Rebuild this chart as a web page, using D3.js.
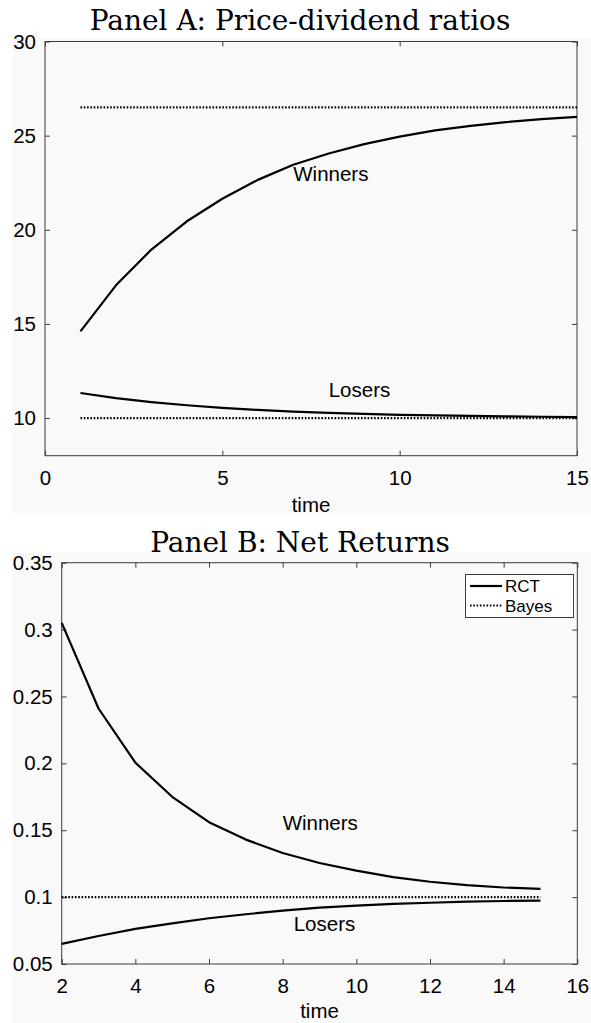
<!DOCTYPE html>
<html>
<head>
<meta charset="utf-8">
<script src="https://cdn.jsdelivr.net/npm/d3@7"></script>
<style>
  body { margin: 0; background: #ffffff; }
  svg { display: block; }
  text { font-family: "Liberation Sans", Arial, Helvetica, sans-serif; fill: #000; }
</style>
</head>
<body>
<div id="chart"></div>
<script>
// Panel A: price-dividend ratios
const timeA = [1, 2, 3, 4, 5, 6, 7, 8, 9, 10, 11, 12, 13, 14, 15];
const pdWinners = [14.6, 17.05, 18.95, 20.45, 21.65, 22.65, 23.45, 24.05, 24.55, 24.95, 25.28, 25.52, 25.72, 25.88, 26.0];
const pdLosers = [11.33, 11.06, 10.85, 10.68, 10.54, 10.43, 10.34, 10.27, 10.22, 10.17, 10.14, 10.11, 10.09, 10.07, 10.05];
const pdBayesLevels = [26.5, 10];
const ticksA = { x: [0, 5, 10, 15], y: [10, 15, 20, 25, 30] };

// Panel B: net returns
const timeB = [2, 3, 4, 5, 6, 7, 8, 9, 10, 11, 12, 13, 14, 15];
const retWinners = [0.305, 0.241, 0.2005, 0.175, 0.156, 0.143, 0.133, 0.1255, 0.1198, 0.115, 0.1115, 0.109, 0.1072, 0.1061];
const retLosers = [0.065, 0.0709, 0.0762, 0.0804, 0.0842, 0.0872, 0.0899, 0.0921, 0.0937, 0.0949, 0.0958, 0.0966, 0.0971, 0.0974];
const retBayesLevels = [0.1];
const ticksB = { x: [2, 4, 6, 8, 10, 12, 14, 16], y: [0.05, 0.1, 0.15, 0.2, 0.25, 0.3, 0.35] };

const legendNames = ["RCT", "Bayes"];

const width = 591;
const height = 1023;

const style = {
  bg: "#f9f9f9",
  axis: "#3a3a3a",
  line: "#000000",
  lineWidth: 2.2,
  dotWidth: 2.2,
  dots: "1.6,1.7",
  fontSize: 20.5,
  tickLen: 5
};

var svg = d3.select("#chart")
  .append("svg")
  .attr("width", width)
  .attr("height", height);

// panel A
drawPanel({
  bgBox: [12, 38, 591, 513],
  title: "Panel A: Price-dividend ratios",
  titleX: 300, titleY: 30,
  xDomain: [0, 15], xRange: [45, 577],
  yDomain: [8, 30], yRange: [455.7, 41.5],
  ticks: ticksA,
  yFormat: d3.format("d"),
  labelY: 512,
  time: timeA,
  solid: [pdWinners, pdLosers],
  dotted: pdBayesLevels,
  notes: [
    { text: "Winners", t: 7, v: 23.0 },
    { text: "Losers", t: 8, v: 11.5 }
  ],
  legend: false
});

// panel B
drawPanel({
  bgBox: [12, 553, 591, 1023],
  title: "Panel B: Net Returns",
  titleX: 300, titleY: 551.5,
  xDomain: [2, 16], xRange: [61.7, 577.3],
  yDomain: [0.05, 0.35], yRange: [964, 562.7],
  ticks: ticksB,
  yFormat: function(d) { return String(+d.toFixed(2)); },
  labelY: 1018,
  time: timeB,
  solid: [retWinners, retLosers],
  dotted: retBayesLevels,
  notes: [
    { text: "Winners", t: 8, v: 0.156 },
    { text: "Losers", t: 8.3, v: 0.0805 }
  ],
  legend: true
});

function drawPanel(p) {
  var g = svg.append("g");

  // grey figure area behind the axes
  g.append("rect")
    .attr("x", p.bgBox[0])
    .attr("y", p.bgBox[1])
    .attr("width", p.bgBox[2] - p.bgBox[0])
    .attr("height", p.bgBox[3] - p.bgBox[1])
    .attr("fill", style.bg);

  g.append("text")
    .attr("x", p.titleX)
    .attr("y", p.titleY)
    .attr("text-anchor", "middle")
    .style("font-family", "'DejaVu Serif', 'Liberation Serif', serif")
    .style("font-size", "28px")
    .text(p.title);

  var x = d3.scaleLinear().domain(p.xDomain).range(p.xRange);
  var y = d3.scaleLinear().domain(p.yDomain).range(p.yRange);

  // axes with inward ticks, mirrored on top and right
  var axes = [
    { axis: d3.axisBottom(x).tickValues(p.ticks.x).tickFormat(d3.format("d")), at: "translate(0," + p.yRange[0] + ")", labels: true, pad: 14.5 },
    { axis: d3.axisLeft(y).tickValues(p.ticks.y).tickFormat(p.yFormat), at: "translate(" + p.xRange[0] + ",0)", labels: true, pad: 9 },
    { axis: d3.axisTop(x).tickValues(p.ticks.x), at: "translate(0," + p.yRange[1] + ")", labels: false, pad: 9 },
    { axis: d3.axisRight(y).tickValues(p.ticks.y), at: "translate(" + p.xRange[1] + ",0)", labels: false, pad: 9 }
  ];
  axes.forEach(function(a) {
    var ag = g.append("g")
      .attr("transform", a.at)
      .call(a.axis.tickSize(-style.tickLen).tickPadding(a.pad));
    ag.select(".domain").remove();
    ag.selectAll("line").attr("stroke", style.axis);
    ag.selectAll("text")
      .style("font-size", style.fontSize + "px")
      .style("font-family", "'Liberation Sans', Arial, sans-serif")
      .attr("fill", "#000");
    if (!a.labels) ag.selectAll("text").remove();
  });

  // box
  g.append("rect")
    .attr("x", p.xRange[0])
    .attr("y", p.yRange[1])
    .attr("width", p.xRange[1] - p.xRange[0])
    .attr("height", p.yRange[0] - p.yRange[1])
    .attr("fill", "none")
    .attr("stroke", style.axis)
    .attr("stroke-width", 1);

  g.append("text")
    .attr("x", (p.xRange[0] + p.xRange[1]) / 2)
    .attr("y", p.labelY)
    .attr("text-anchor", "middle")
    .style("font-size", style.fontSize + "px")
    .text("time");

  var line = d3.line()
    .x(function(d) { return x(d[0]); })
    .y(function(d) { return y(d[1]); });

  // bayes benchmark (dotted)
  p.dotted.forEach(function(level) {
    g.append("path")
      .datum(p.time.map(function(t) { return [t, level]; }))
      .attr("d", line)
      .attr("fill", "none")
      .attr("stroke", style.line)
      .attr("stroke-width", style.dotWidth)
      .attr("stroke-dasharray", style.dots);
  });

  // rct paths (solid)
  p.solid.forEach(function(series) {
    g.append("path")
      .datum(p.time.map(function(t, i) { return [t, series[i]]; }))
      .attr("d", line)
      .attr("fill", "none")
      .attr("stroke", style.line)
      .attr("stroke-width", style.lineWidth)
      .attr("stroke-linejoin", "round");
  });

  p.notes.forEach(function(n) {
    g.append("text")
      .attr("x", x(n.t))
      .attr("y", y(n.v))
      .attr("dy", "0.36em")
      .style("font-size", style.fontSize + "px")
      .text(n.text);
  });

  if (p.legend) drawLegend(g);
}

function drawLegend(g) {
  var lg = g.append("g");
  lg.append("rect")
    .attr("x", 465.5).attr("y", 574.5)
    .attr("width", 108).attr("height", 43)
    .attr("fill", "#ffffff")
    .attr("stroke", style.axis)
    .attr("stroke-width", 1);

  legendNames.forEach(function(name, i) {
    var yy = 586 + i * 19.5;
    lg.append("line")
      .attr("x1", 470).attr("x2", 502)
      .attr("y1", yy).attr("y2", yy)
      .attr("stroke", style.line)
      .attr("stroke-width", i == 0 ? style.lineWidth : style.dotWidth)
      .attr("stroke-dasharray", i == 0 ? null : style.dots);
    lg.append("text")
      .attr("x", 505)
      .attr("y", yy)
      .attr("dy", "0.36em")
      .style("font-size", "17px")
      .text(name);
  });
}
</script>
</body>
</html>
